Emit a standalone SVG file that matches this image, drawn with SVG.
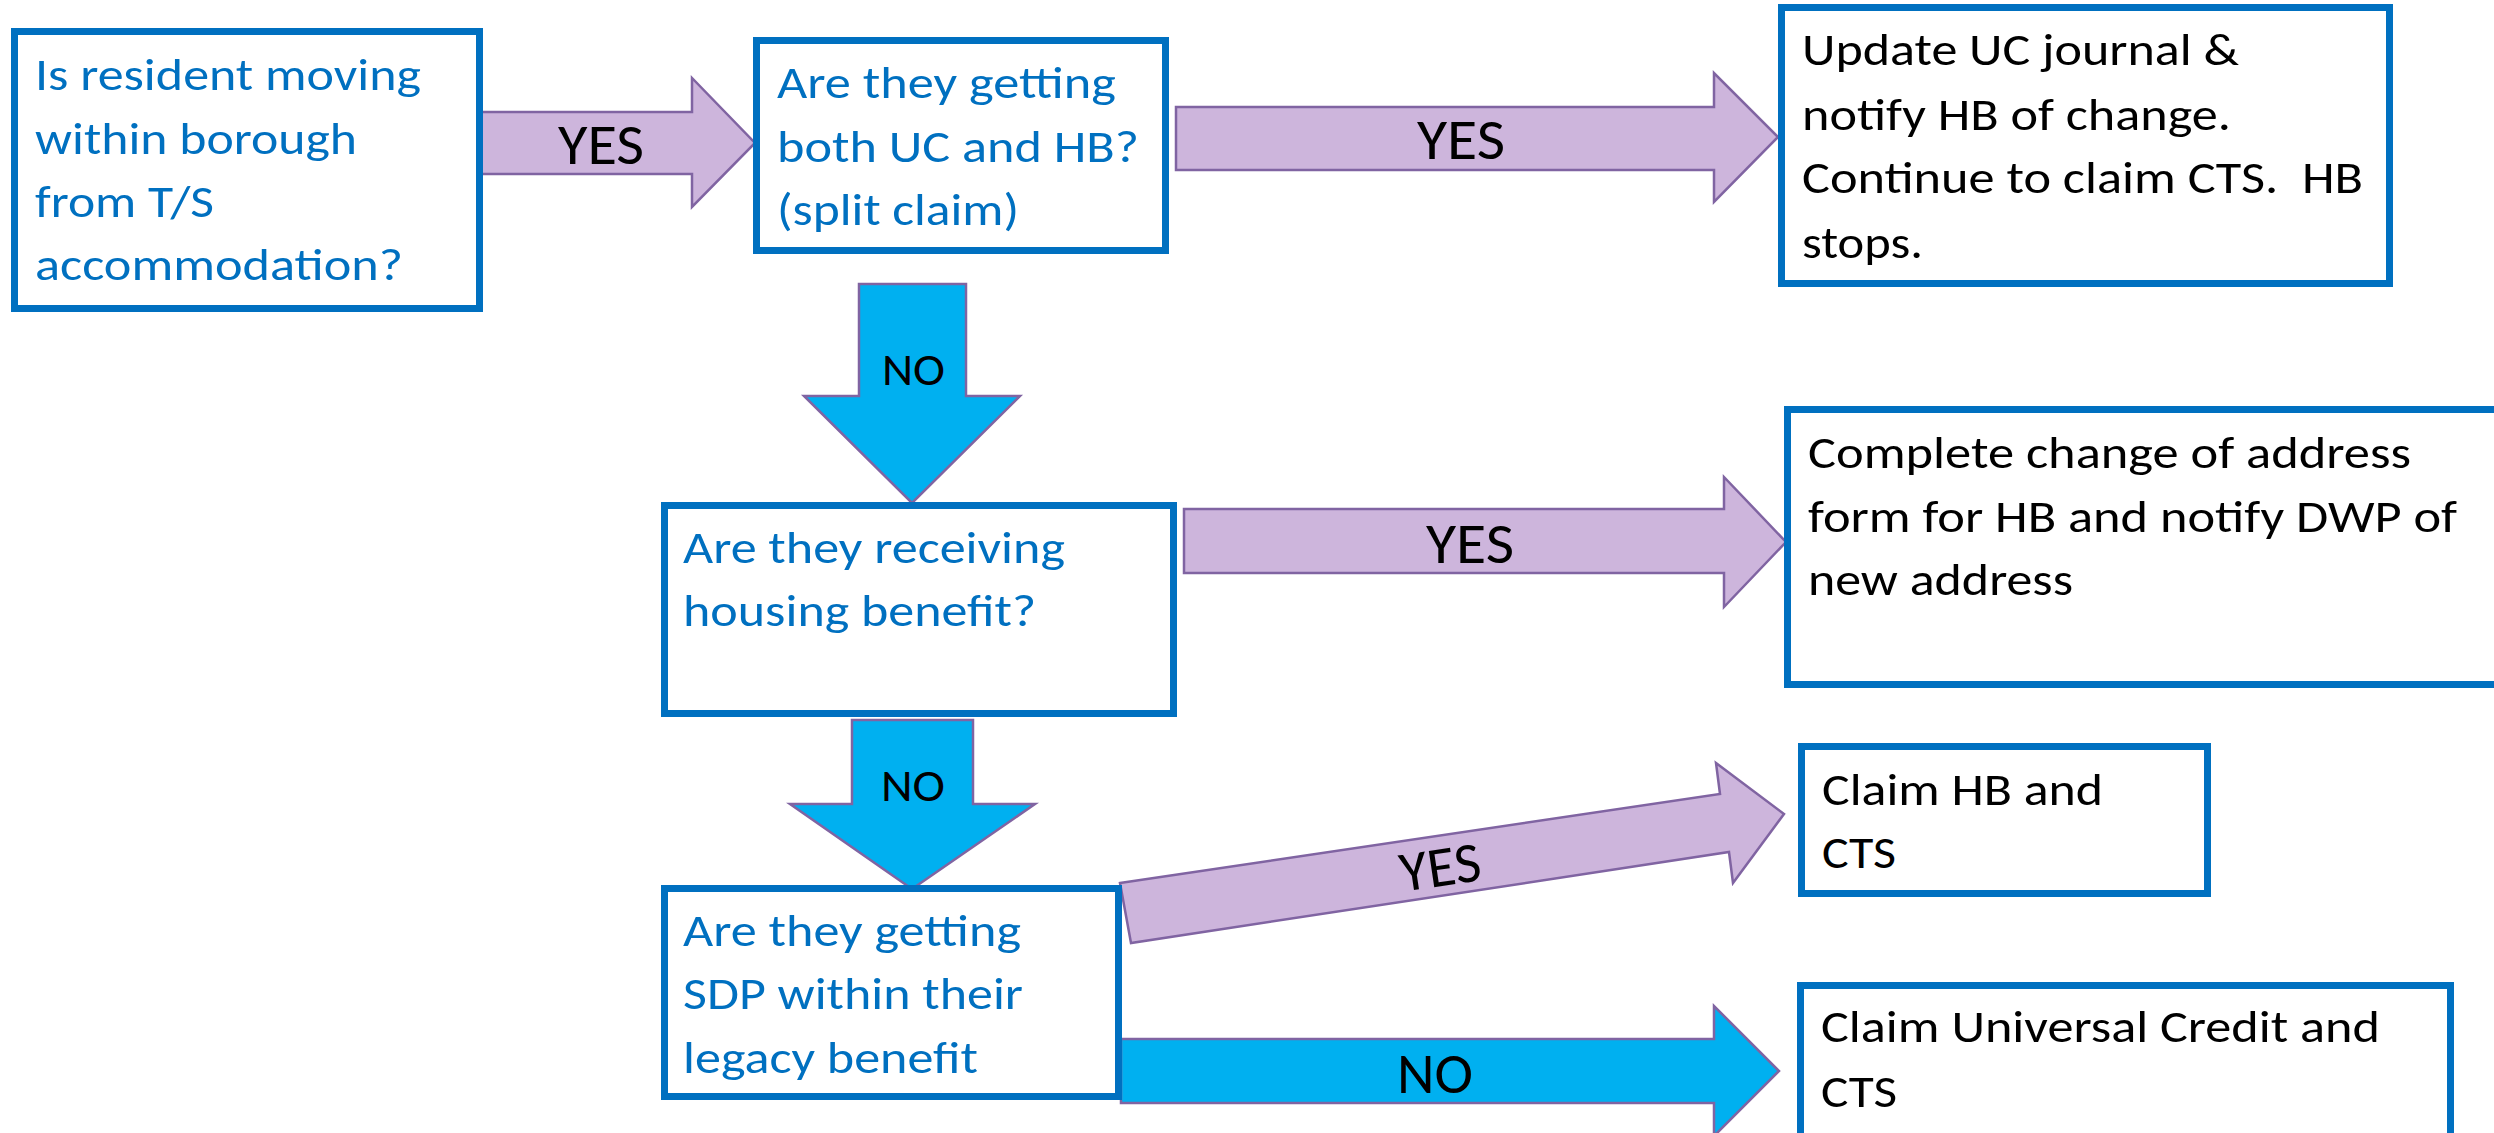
<svg xmlns="http://www.w3.org/2000/svg" width="2494" height="1133" viewBox="0 0 2494 1133">
<style>
.box{fill:#ffffff;stroke:#0070C0;stroke-width:7}
.q{fill:#0070C0;font-family:Carlito,Lato,"Open Sans",sans-serif;font-size:46px}
.a{fill:#000000;font-family:Carlito,Lato,"Open Sans",sans-serif;font-size:46px}
.yes{fill:#CDB5DC;stroke:#8064A2;stroke-width:2.5;stroke-linejoin:miter}
.no{fill:#00B0F0;stroke:#8064A2;stroke-width:2.5;stroke-linejoin:miter}
.lbl{fill:#000000;font-family:Carlito,Lato,"Open Sans",sans-serif;font-size:57px}
.lbls{fill:#000000;font-family:Carlito,Lato,"Open Sans",sans-serif;font-size:46px}
</style>
<rect width="2494" height="1133" fill="#ffffff"/>
<g id="connectors">
  <polygon class="yes" points="480,112 692,112 692,78 755,143 692,207 692,174 480,174"/>
  <text class="lbl" x="558" y="164" textLength="86" lengthAdjust="spacingAndGlyphs">YES</text>
  <polygon class="yes" points="1176,107 1714,107 1714,73 1778,137 1714,202 1714,170 1176,170"/>
  <text class="lbl" x="1417" y="159" textLength="88" lengthAdjust="spacingAndGlyphs">YES</text>
  <polygon class="no" points="859,284 966,284 966,396 1020,396 912,503 804,396 859,396"/>
  <text class="lbls" x="882" y="385" textLength="63" lengthAdjust="spacingAndGlyphs">NO</text>
  <polygon class="yes" points="1184,509 1724,509 1724,477 1786,542 1724,607 1724,573 1184,573"/>
  <text class="lbl" x="1426" y="563" textLength="88" lengthAdjust="spacingAndGlyphs">YES</text>
  <polygon class="no" points="852,720 973,720 973,804 1035,804 912,889 790,804 852,804"/>
  <text class="lbls" x="881" y="801" textLength="64" lengthAdjust="spacingAndGlyphs">NO</text>
  <polygon class="yes" points="1120,883 1720,794 1716,763 1784,814 1733,883 1729,852 1131,943"/>
  <text class="lbl" x="1440" y="886" text-anchor="middle" transform="rotate(-8.5 1440 866)">YES</text>
  <polygon class="no" points="1121,1039 1714,1039 1714,1006 1779,1071 1714,1136 1714,1103 1121,1103"/>
  <text class="lbl" x="1397" y="1093" textLength="76" lengthAdjust="spacingAndGlyphs">NO</text>
</g>
<g id="node-moving">
  <rect class="box" x="14.5" y="31.5" width="465" height="277"/>
  <text class="q" x="35" y="90" textLength="386" lengthAdjust="spacingAndGlyphs">Is resident moving</text>
  <text class="q" x="35" y="154" textLength="322" lengthAdjust="spacingAndGlyphs">within borough</text>
  <text class="q" x="35" y="217" textLength="179" lengthAdjust="spacingAndGlyphs">from T/S</text>
  <text class="q" x="35" y="280" textLength="368" lengthAdjust="spacingAndGlyphs">accommodation?</text>
</g>
<g id="node-split">
  <rect class="box" x="756.5" y="40.5" width="409" height="210"/>
  <text class="q" x="777" y="98" textLength="339" lengthAdjust="spacingAndGlyphs">Are they getting</text>
  <text class="q" x="777" y="162" textLength="362" lengthAdjust="spacingAndGlyphs">both UC and HB?</text>
  <text class="q" x="777" y="225" textLength="242" lengthAdjust="spacingAndGlyphs">(split claim)</text>
</g>
<g id="node-update">
  <rect class="box" x="1781.5" y="7.5" width="608" height="276"/>
  <text class="a" x="1802" y="65" textLength="437" lengthAdjust="spacingAndGlyphs">Update UC journal &amp;</text>
  <text class="a" x="1802" y="130" textLength="429" lengthAdjust="spacingAndGlyphs">notify HB of change.</text>
  <text class="a" x="1802" y="193" textLength="561" lengthAdjust="spacingAndGlyphs" xml:space="preserve">Continue to claim CTS.  HB</text>
  <text class="a" x="1802" y="258" textLength="121" lengthAdjust="spacingAndGlyphs">stops.</text>
</g>
<g id="node-hb">
  <rect class="box" x="664.5" y="505.5" width="509" height="208"/>
  <text class="q" x="683" y="563" textLength="382" lengthAdjust="spacingAndGlyphs">Are they receiving</text>
  <text class="q" x="683" y="626" textLength="353" lengthAdjust="spacingAndGlyphs">housing benefit?</text>
</g>
<g id="node-address">
  <rect class="box" x="1787.5" y="409.5" width="800" height="275"/>
  <text class="a" x="1808" y="468" textLength="603" lengthAdjust="spacingAndGlyphs">Complete change of address</text>
  <text class="a" x="1808" y="532" textLength="649" lengthAdjust="spacingAndGlyphs">form for HB and notify DWP of</text>
  <text class="a" x="1808" y="595" textLength="265" lengthAdjust="spacingAndGlyphs">new address</text>
</g>
<g id="node-sdp">
  <rect class="box" x="664.5" y="888.5" width="454" height="208"/>
  <text class="q" x="683" y="946" textLength="338" lengthAdjust="spacingAndGlyphs">Are they getting</text>
  <text class="q" x="683" y="1009" textLength="340" lengthAdjust="spacingAndGlyphs">SDP within their</text>
  <text class="q" x="683" y="1073" textLength="295" lengthAdjust="spacingAndGlyphs">legacy benefit</text>
</g>
<g id="node-claim-hb">
  <rect class="box" x="1801.5" y="746.5" width="406" height="147"/>
  <text class="a" x="1822" y="805" textLength="281" lengthAdjust="spacingAndGlyphs">Claim HB and</text>
  <text class="a" x="1822" y="868" textLength="74" lengthAdjust="spacingAndGlyphs">CTS</text>
</g>
<g id="node-claim-uc">
  <rect class="box" x="1800.5" y="985.5" width="650" height="200"/>
  <text class="a" x="1821" y="1042" textLength="559" lengthAdjust="spacingAndGlyphs">Claim Universal Credit and</text>
  <text class="a" x="1821" y="1107" textLength="76" lengthAdjust="spacingAndGlyphs">CTS</text>
</g>
</svg>
